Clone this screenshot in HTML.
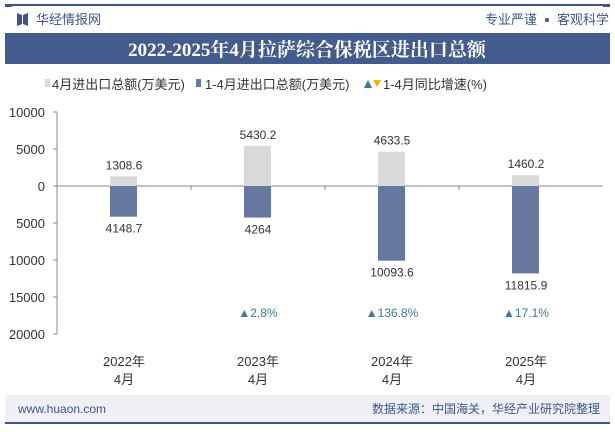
<!DOCTYPE html>
<html><head><meta charset="utf-8"><style>
body{margin:0;width:615px;height:427px;overflow:hidden;background:#fff;font-family:"Liberation Sans","Noto Sans CJK SC",sans-serif;}
</style></head><body>
<svg width="615" height="427" xmlns="http://www.w3.org/2000/svg" style="font-family:'Liberation Sans','Noto Sans CJK SC',sans-serif">
<rect x="5" y="4" width="605" height="2" fill="#3f5488"/>
<rect x="5" y="4" width="7" height="3" fill="#3f5488"/><rect x="603" y="4" width="7" height="3" fill="#3f5488"/>
<g><path d="M17 13 L22 15 L22 24 L17 26 Z" fill="#3f5488"/><path d="M23 15 L28 13 L28 26 L23 24 Z" fill="#3f5488"/></g>
<text x="36" y="24" font-size="13" fill="#3f5488">华经情报网</text>
<text x="537" y="24" font-size="13" fill="#3f5488" text-anchor="end">专业严谨</text>
<circle cx="547" cy="20" r="2" fill="#3f5488"/>
<text x="609" y="24" font-size="13" fill="#3f5488" text-anchor="end">客观科学</text>
<rect x="5" y="33" width="605" height="31" fill="#445b8e"/>
<text x="307" y="56" font-size="19" font-weight="bold" fill="#fff" text-anchor="middle" font-family="'Liberation Serif','Noto Serif CJK SC',serif">2022-2025年4月拉萨综合保税区进出口总额</text>
<g font-size="13" fill="#333">
<rect x="45" y="79" width="5" height="8" fill="#d9d9d9"/><text x="52" y="89">4月进出口总额(万美元)</text>
<rect x="196" y="79" width="5" height="8" fill="#6678a0"/><text x="205" y="89">1-4月进出口总额(万美元)</text>
<path d="M364 88 L368 80 L372 88 Z" fill="#3a7a9a"/><path d="M373 80 L381 80 L377 87 Z" fill="#f2b705"/><text x="383" y="89">1-4月同比增速(%)</text>
</g>
<g id="plot"></g>
<rect x="5" y="395" width="605" height="27" fill="#eef0f6"/>
<rect x="5" y="422" width="605" height="2" fill="#3f5488"/>
<text x="18" y="413" font-size="12" fill="#3f5488">www.huaon.com</text>
<text x="600" y="413" font-size="12" fill="#3f5488" text-anchor="end">数据来源：中国海关，华经产业研究院整理</text>
</svg>
<script>
const categories=["2022年","2023年","2024年","2025年"];
const monthly=[1308.6,5430.2,4633.5,1460.2];
const cumulative=[4148.7,4264,10093.6,11815.9];
const growth=[null,2.8,136.8,17.1];
const yTicks=[10000,5000,0,5000,10000,15000,20000];
const yVals=[10000,5000,0,-5000,-10000,-15000,-20000];
const NS="http://www.w3.org/2000/svg";
const g=document.getElementById('plot');
const x0=57,x1=593,y0=186,k=74/10000;
const yS=v=>y0-v*k;
const bw=(x1-x0)/categories.length;
const xC=i=>x0+bw*(i+0.5);
function el(t,a,txt){const e=document.createElementNS(NS,t);for(const n in a)e.setAttribute(n,a[n]);if(txt!=null)e.textContent=txt;g.appendChild(e);return e;}
let ax=el('line',{x1:x0,x2:x0,y1:yS(10000),y2:yS(-20000),stroke:'#888'});

let zx=el('line',{x1:x0,x2:x1+10,y1:y0,y2:y0,stroke:'#888'});

yVals.forEach((v,i)=>{el('line',{x1:x0-4,x2:x0,y1:yS(v),y2:yS(v),stroke:'#888'});
 const t=el('text',{x:x0-12,y:yS(v)+5,'font-size':13,'text-anchor':'end',fill:'#333'},yTicks[i]);
 });
categories.forEach((c,i)=>{const cx=xC(i);
 if(i>0)el('line',{x1:x0+bw*i,x2:x0+bw*i,y1:y0,y2:y0+4,stroke:'#888'});
 const b1=el('rect',{x:cx-14,y:yS(monthly[i]),width:27,height:monthly[i]*k,fill:'#d9d9d9'});
 
 const b2=el('rect',{x:cx-14,y:y0,width:27,height:cumulative[i]*k,fill:'#6678a0'});
 
 const l1=el('text',{x:cx,y:yS(monthly[i])-7,'font-size':12,'text-anchor':'middle',fill:'#333'},monthly[i]);
 
 const l2=el('text',{x:cx,y:yS(-cumulative[i])+16,'font-size':12,'text-anchor':'middle',fill:'#333'},cumulative[i]);
 
 if(growth[i]!=null){const gt=el('text',{x:cx,y:317,'font-size':12,'text-anchor':'middle',fill:'#3a7a9a'},'▲'+growth[i]+'%');
  }
 const xl=el('text',{x:cx,y:366,'font-size':13,'text-anchor':'middle',fill:'#333'},c);
 
 const xm=el('text',{x:cx,y:384,'font-size':13,'text-anchor':'middle',fill:'#333'},'4月');
 
});
</script>
</body></html>
